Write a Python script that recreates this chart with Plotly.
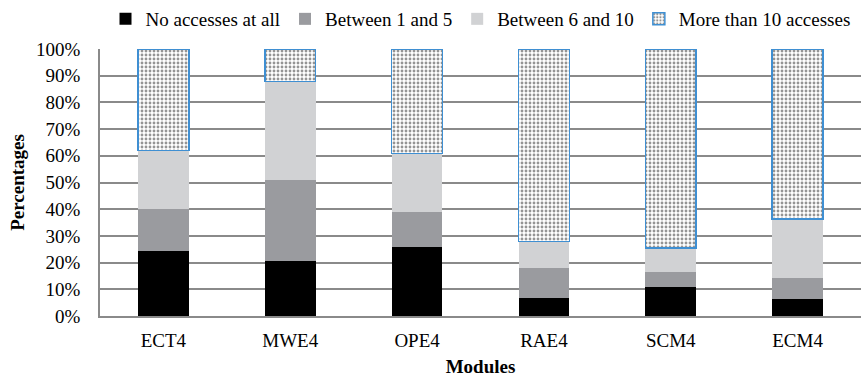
import plotly.graph_objects as go

modules = ["ECT4", "MWE4", "OPE4", "RAE4", "SCM4", "ECM4"]
no_access = [24.3, 20.6, 25.9, 6.9, 10.9, 6.3]
between_1_5 = [15.7, 30.3, 13.0, 11.2, 5.4, 8.1]
between_6_10 = [22.0, 37.0, 22.0, 9.8, 9.1, 21.9]
more_than_10 = [38.0, 12.1, 39.1, 72.1, 74.6, 63.7]

serif = "Liberation Serif"

fig = go.Figure()
fig.add_trace(go.Bar(name="No accesses at all", x=modules, y=no_access,
                     marker=dict(color="#000000", line=dict(width=0))))
fig.add_trace(go.Bar(name="Between 1 and 5", x=modules, y=between_1_5,
                     marker=dict(color="#9a9b9f", line=dict(width=0))))
fig.add_trace(go.Bar(name="Between 6 and 10", x=modules, y=between_6_10,
                     marker=dict(color="#d1d2d4", line=dict(width=0))))
fig.add_trace(go.Bar(name="More than 10 accesses", x=modules, y=more_than_10,
                     marker=dict(color="#ffffff",
                                 pattern=dict(shape=".", fgcolor="#2a2a2a", bgcolor="#ffffff",
                                              size=4, solidity=0.4),
                                 line=dict(color="#3f8fd2", width=1.5))))

fig.update_layout(
    barmode="stack",
    bargap=0.6,
    width=865, height=383,
    margin=dict(l=100, r=4, t=49, b=67, autoexpand=False),
    paper_bgcolor="#ffffff",
    plot_bgcolor="#ffffff",
    font=dict(family=serif, size=19, color="#000000"),
    legend=dict(orientation="h", x=0.5, xanchor="center", y=1.0, yanchor="top",
                yref="container", font=dict(size=19, family=serif, color="#000000"),
                itemwidth=30, traceorder="normal", bgcolor="rgba(0,0,0,0)"),
    showlegend=True,
)
fig.update_yaxes(range=[0, 100], dtick=10, ticksuffix="%", showgrid=True,
                 gridcolor="#8a8a8a", gridwidth=1.6, showline=True, linecolor="#8a8a8a",
                 linewidth=1.6, zeroline=False, ticks="", ticklabelstandoff=14,
                 tickfont=dict(size=19, family=serif),
                 title=dict(text="<b>Percentages</b>", font=dict(size=19, family=serif), standoff=6))
fig.update_xaxes(showline=True, linecolor="#8a8a8a", linewidth=1.6, ticks="",
                 ticklabelstandoff=6,
                 tickfont=dict(size=19, family=serif),
                 title=dict(text="<b>Modules</b>", font=dict(size=19, family=serif), standoff=10))

fig.write_html("out.html")
